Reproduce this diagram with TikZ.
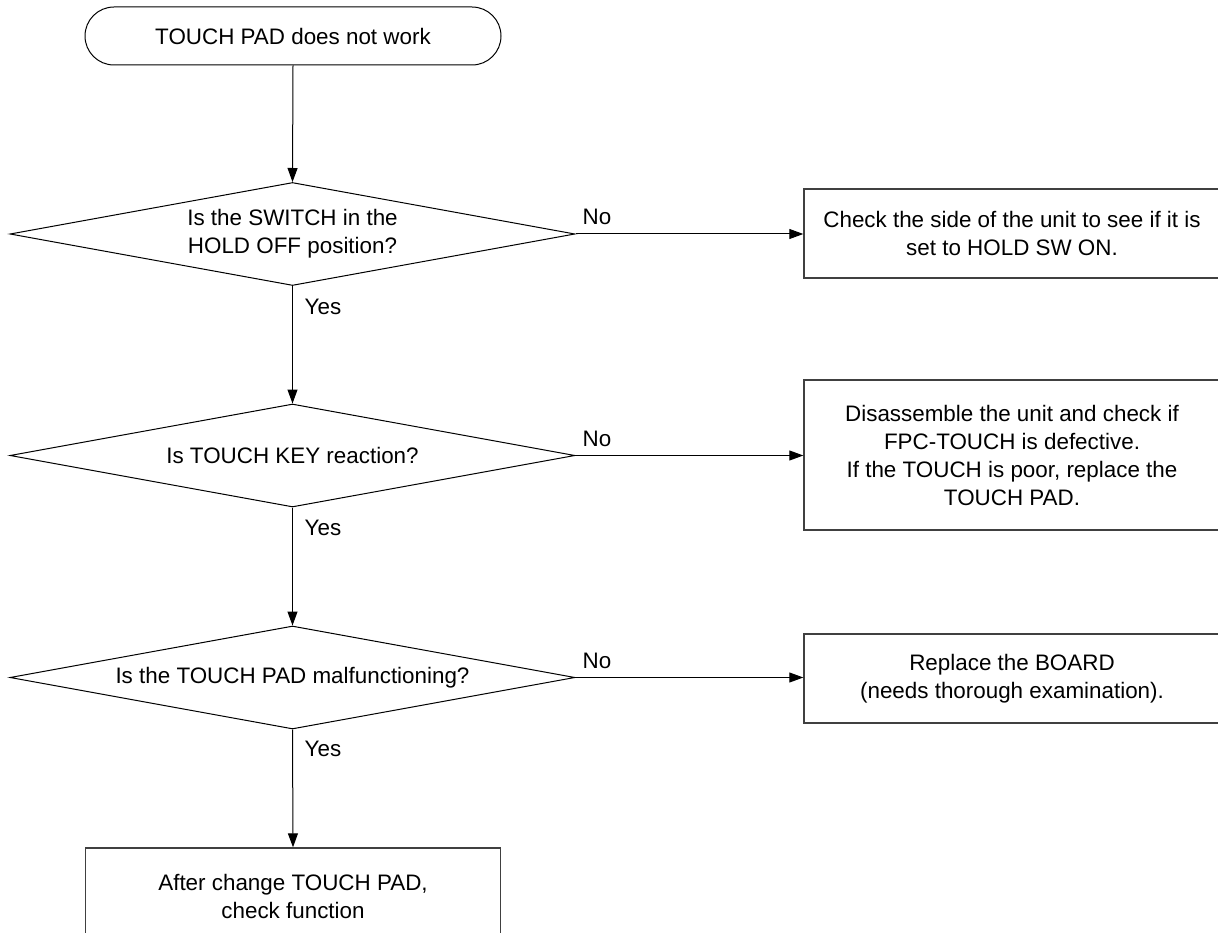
\documentclass[tikz,border=0pt]{standalone}
\usepackage{fontspec}
\setmainfont{Liberation Sans}
\usetikzlibrary{shapes.geometric,arrows.meta}
\begin{document}
\begin{tikzpicture}[x=1pt,y=-1pt,
  every node/.style={font=\fontsize{22.4pt}{28pt}\selectfont, align=center},
  decision/.style={diamond, draw=black, line width=1pt, aspect=5.5, minimum width=565pt, minimum height=103pt, inner sep=0pt},
  procbox/.style={rectangle, draw=black!75, line width=1.4pt, inner sep=0pt},
  terminal/.style={rectangle, rounded corners=29pt, draw=black, line width=1pt, minimum width=416pt, minimum height=58pt},
  flow/.style={line width=1pt, -{Triangle[length=14pt,width=10pt]}},
  lbl/.style={anchor=west, inner sep=0pt}]
\useasboundingbox (0,0) rectangle (1218,933);
\clip (0,0) rectangle (1218,933);
\fill[white] (0,0) rectangle (1218,933);

\node[terminal] (start) at (293,36) {TOUCH PAD does not work};

\node[decision] (d1) at (292.5,234) {Is the SWITCH in the\\HOLD OFF position?};
\node[decision] (d2) at (292.5,455.5) {Is TOUCH KEY reaction?};
\node[decision] (d3) at (292.5,677.5) {Is the TOUCH PAD malfunctioning?};

\node[procbox, minimum width=416pt, minimum height=89pt] (b1) at (1012,233.5) {Check the side of the unit to see if it is\\set to HOLD SW ON.};
\node[procbox, minimum width=416pt, minimum height=150pt] (b2) at (1012,455) {Disassemble the unit and check if\\FPC-TOUCH is defective.\\If the TOUCH is poor, replace the\\TOUCH PAD.};
\node[procbox, minimum width=416pt, minimum height=89pt] (b3) at (1012,678.5) {Replace the BOARD\\(needs thorough examination).};
\node[procbox, minimum width=415pt, minimum height=96pt] (b4) at (293,896) {After change TOUCH PAD,\\check function};

\draw[flow] (start.south) -- (d1.north);
\draw[flow] (d1.south) -- (d2.north);
\draw[flow] (d2.south) -- (d3.north);
\draw[flow] (d3.south) -- (b4.north);
\draw[flow] (d1.east) -- (d1.east -| b1.west);
\draw[flow] (d2.east) -- (d2.east -| b2.west);
\draw[flow] (d3.east) -- (d3.east -| b3.west);

\path (d1.east) ++(7,-17) node[lbl] (no1) {No};
\path (d2.east) ++(7,-17) node[lbl] (no2) {No};
\path (d3.east) ++(7,-17) node[lbl] (no3) {No};
\path (d1.south) ++(12,21) node[lbl] (yes1) {Yes};
\path (d2.south) ++(12,20) node[lbl] (yes2) {Yes};
\path (d3.south) ++(12,19) node[lbl] (yes3) {Yes};
\end{tikzpicture}
\end{document}
